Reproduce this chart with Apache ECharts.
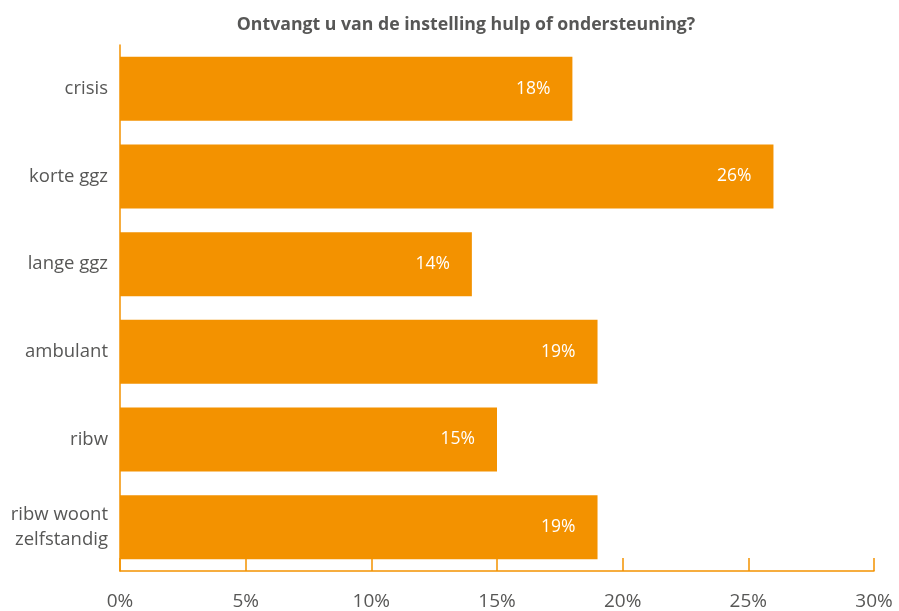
<!DOCTYPE html>
<html><head><meta charset="utf-8">
<script src="https://cdn.jsdelivr.net/npm/echarts@6/dist/echarts.min.js"></script>
<style>html,body{margin:0;padding:0;background:#fff}#c{width:899px;height:611px}</style>
</head><body><div id="c"></div>
<script>
const titleText = 'Ontvangt u van de instelling hulp of ondersteuning?';
const categories = ['crisis', 'korte ggz', 'lange ggz', 'ambulant', 'ribw', 'ribw woont\nzelfstandig'];
const values = [18, 26, 14, 19, 15, 19];
const xTicks = [0, 5, 10, 15, 20, 25, 30];

const orange = '#F39200';
const textCol = '#575756';
const font = '"Open Sans", "Noto Sans", sans-serif';
const chart = echarts.init(document.getElementById('c'), null, {renderer: 'canvas'});
chart.setOption({
  animation: false,
  title: {
    text: titleText, left: 461, top: 11, textAlign: 'center',
    textStyle: {fontFamily: font, fontSize: 17.7, fontWeight: 'bold', color: textCol}
  },
  grid: {left: 120, right: 25, top: 45, bottom: 39, containLabel: false},
  xAxis: {
    type: 'value', min: xTicks[0], max: xTicks[xTicks.length - 1], interval: 5,
    axisLine: {show: true, lineStyle: {color: orange, width: 1.5}},
    axisTick: {show: true, inside: true, length: 13, lineStyle: {color: orange, width: 1.5}},
    splitLine: {show: false},
    axisLabel: {formatter: v => v + '%', fontFamily: font, fontSize: 19, color: textCol, margin: 21}
  },
  yAxis: {
    type: 'category', data: categories, inverse: true,
    axisLine: {show: true, lineStyle: {color: orange, width: 1.5}},
    axisTick: {show: false},
    axisLabel: {fontFamily: font, fontSize: 18.5, color: textCol, margin: 12, lineHeight: 25, align: 'right'}
  },
  series: [{
    type: 'bar', data: values, barCategoryGap: '27%',
    itemStyle: {color: orange},
    label: {show: true, position: 'insideRight', distance: 22, formatter: p => p.value + '%',
      fontFamily: font, fontSize: 17.5, color: '#fff'}
  }]
});
</script></body></html>
